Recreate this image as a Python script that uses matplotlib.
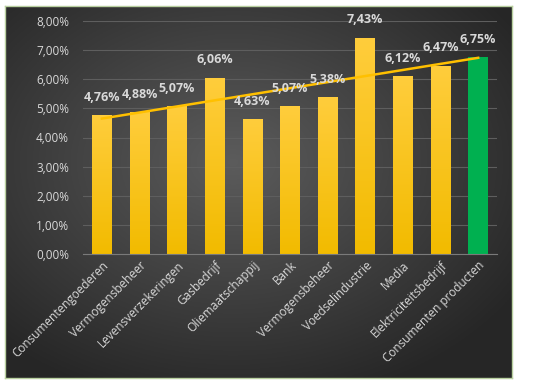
import numpy as np
import matplotlib
matplotlib.use("Agg")
import matplotlib.pyplot as plt
from matplotlib.ticker import FuncFormatter
from matplotlib.colors import LinearSegmentedColormap

categories = ["Consumentengoederen", "Vermogensbeheer", "Levensverzekeringen", "Gasbedrijf",
              "Oliemaatschappij", "Bank", "Vermogensbeheer", "Voedselindustrie", "Media",
              "Elektriciteitsbedrijf", "Consumenten producten"]
values = [4.76, 4.88, 5.07, 6.06, 4.63, 5.07, 5.38, 7.43, 6.12, 6.47, 6.75]

plt.rcParams["font.family"] = ["Open Sans", "DejaVu Sans"]
txt = "#d9d9d9"

fig = plt.figure(figsize=(5.44, 3.83), dpi=100)
fig.patch.set_facecolor("white")

# dark chart area with a soft radial gradient
bx0, by0, bx1, by1 = 5 / 544, 1 - 378 / 383, 512 / 544, 1 - 6 / 383
bg = fig.add_axes([bx0, by0, bx1 - bx0, by1 - by0], zorder=0)
yy, xx = np.mgrid[0:1:200j, 0:1:300j]
r = np.sqrt(((xx - 0.45) / 0.7) ** 2 + ((yy - 0.42) / 0.7) ** 2)
shade = np.clip(0.36 - 0.22 * r, 0.15, 0.36)
bg.imshow(np.dstack([shade, shade, shade]), aspect="auto", extent=[0, 1, 0, 1])
bg.set_xticks([])
bg.set_yticks([])
for s in bg.spines.values():
    s.set_color("#b9d0a0")
    s.set_linewidth(1)

ax = fig.add_axes([83 / 544, 1 - 254 / 383, (497 - 83) / 544, (254 - 21) / 383], zorder=1)
ax.patch.set_alpha(0)

x = np.arange(len(values))
colors = ["#ffc51e"] * (len(values) - 1) + ["#00b050"]
bars = ax.bar(x, values, width=0.52, color=colors, zorder=2)

# light vertical gradient on the yellow bars
ramp = LinearSegmentedColormap.from_list("ramp", ["#f2bb00", "#ffcd3c"])
grad = np.linspace(0, 1, 100).reshape(-1, 1)
for bar in bars[:-1]:
    x0, w, h = bar.get_x(), bar.get_width(), bar.get_height()
    im = ax.imshow(grad, cmap=ramp, origin="lower", aspect="auto",
                   extent=[x0, x0 + w, 0, h], zorder=2.1)
    im.set_clip_path(bar)

# linear trend line
k, b = np.polyfit(x, values, 1)
ax.plot([x[0], x[-1]], [k * x[0] + b, k * x[-1] + b], color="#ffc000", lw=1.8, zorder=3)

for xi, v in zip(x, values):
    ax.annotate(f"{v:.2f}%".replace(".", ","), (xi, v), xytext=(0, 8), textcoords="offset points",
                ha="center", va="bottom", color=txt, fontsize=9, fontweight="bold", zorder=4)

ax.set_xlim(-0.5, 10.5)
ax.set_ylim(0, 8)
ax.set_yticks(range(0, 9))
ax.yaxis.set_major_formatter(FuncFormatter(lambda v, p: f"{v:.2f}%".replace(".", ",")))
ax.grid(axis="y", color="#5e5e5e", lw=0.8, zorder=0)
ax.set_axisbelow(True)
ax.set_xticks(x)
ax.set_xticklabels(categories, rotation=45, ha="right", rotation_mode="anchor")
ax.tick_params(axis="both", length=0, colors=txt, labelsize=8.5)
ax.tick_params(axis="y", pad=10)
for s in ["top", "right", "left"]:
    ax.spines[s].set_visible(False)
ax.spines["bottom"].set_color("#7a7a7a")

fig.savefig("out.png", dpi=100)
